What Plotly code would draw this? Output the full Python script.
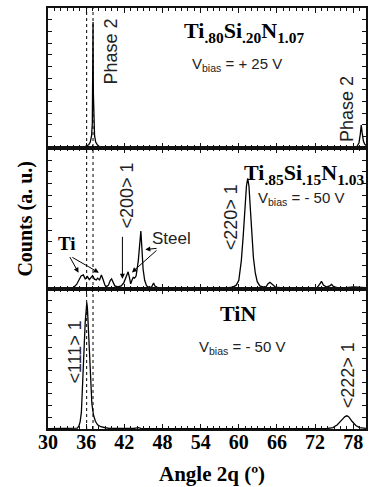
import plotly.graph_objects as go
from plotly.subplots import make_subplots

# 2-theta (deg) and relative intensity samples, one pair of lists per film
top_angle = [30.0, 32.0, 34.0, 34.8, 35.5, 36.0, 36.4, 36.65, 36.85, 36.97, 37.03, 37.08,
             37.13, 37.2, 37.32, 37.5, 37.75, 38.1, 38.6, 39.5, 42.0, 50.0, 60.0, 66.0,
             68.0, 68.6, 70.0, 71.2, 72.0, 75.0, 77.5, 78.2, 78.6, 78.9, 79.1, 79.25,
             79.4, 79.6, 79.8, 80.0]
top_counts = [0.3, 0.4, 0.6, 0.8, 0.9, 1.5, 2.5, 4.5, 9.0, 18.0, 40.0, 90.0,
              40.0, 18.0, 9.0, 4.5, 2.5, 1.2, 0.6, 0.5, 0.4, 0.4, 0.4, 0.5,
              0.8, 0.5, 0.7, 1.0, 0.5, 0.4, 0.5, 0.6, 1.5, 4.0, 10.0, 16.5,
              11.0, 5.0, 3.0, 2.0]

mid_angle = [30.0, 33.0, 34.0, 34.5, 34.9, 35.2, 35.55, 35.85, 36.2, 36.5, 37.0, 37.3,
             37.6, 37.8, 38.1, 38.4, 38.7, 38.95, 39.2, 39.5, 39.8, 40.0, 40.2, 40.5,
             41.0, 41.5, 41.9, 42.3, 42.6, 42.8, 43.0, 43.2, 43.4, 43.6, 43.85, 44.2,
             44.45, 44.6, 44.75, 44.95, 45.2, 45.5, 45.9, 46.3, 46.6, 46.9, 47.5, 50.0,
             55.0, 58.0, 59.0, 59.6, 60.0, 60.4, 60.7, 61.0, 61.2, 61.4, 61.6, 61.8,
             62.0, 62.3, 62.6, 62.9, 63.3, 63.8, 64.3, 64.6, 64.9, 65.3, 65.8, 67.0,
             70.0, 72.3, 72.7, 73.0, 73.3, 73.8, 74.3, 74.6, 74.9, 75.5, 76.5, 78.0,
             80.0]
mid_counts = [0.3, 0.4, 0.8, 3.0, 7.0, 9.0, 9.8, 7.0, 8.6, 6.5, 9.3, 6.8,
              6.2, 7.5, 6.2, 9.8, 6.0, 2.5, 1.5, 2.5, 6.0, 7.0, 5.0, 2.0,
              1.2, 2.0, 4.0, 8.0, 12.0, 8.0, 3.5, 6.0, 8.0, 7.5, 9.0, 20.0,
              32.0, 41.0, 30.0, 14.0, 6.0, 2.0, 0.8, 1.2, 4.0, 1.2, 0.5, 0.4,
              0.4, 0.5, 1.0, 2.5, 6.0, 20.0, 38.0, 60.0, 73.0, 78.6, 73.0, 58.0,
              40.0, 22.0, 11.0, 5.0, 2.0, 1.2, 1.5, 3.5, 4.5, 3.0, 1.0, 0.6,
              0.5, 0.8, 3.0, 5.2, 2.5, 1.2, 2.0, 3.0, 1.5, 0.8, 0.5, 1.2,
              0.8]

bot_angle = [30.0, 33.0, 34.6, 34.85, 35.05, 35.25, 35.4, 35.55, 35.7, 35.85, 36.0, 36.1,
             36.2, 36.35, 36.5, 36.7, 36.9, 37.15, 37.45, 37.8, 38.3, 39.0, 39.7, 43.5,
             44.2, 44.6, 50.0, 60.0, 70.0, 74.0, 74.8, 75.5, 76.2, 76.7, 77.0, 77.3,
             77.8, 78.4, 79.0, 80.0]
bot_counts = [0.2, 0.3, 0.6, 2.0, 5.0, 12.0, 25.0, 42.0, 60.0, 76.0, 87.0, 90.0,
              86.0, 72.0, 52.0, 32.0, 18.0, 10.0, 5.5, 3.0, 1.6, 0.9, 0.5, 0.4,
              1.0, 0.5, 0.3, 0.3, 0.3, 0.4, 1.0, 3.0, 6.5, 8.8, 9.4, 8.6,
              5.5, 2.5, 1.0, 0.5]

x_ticks = [30, 36, 42, 48, 54, 60, 66, 72, 78]
ref_lines = [36.08, 37.08]

SERIF = "Liberation Serif"
SANS = "Liberation Sans Narrow, Liberation Sans, Arial Narrow, sans-serif"
INK = "#111111"

fig = make_subplots(rows=3, cols=1, shared_xaxes=True, vertical_spacing=0)
for row, (xa, ya) in enumerate([(top_angle, top_counts), (mid_angle, mid_counts),
                                (bot_angle, bot_counts)], start=1):
    fig.add_trace(go.Scatter(x=xa, y=ya, mode="lines",
                             line=dict(color="black", width=1.3),
                             showlegend=False, hoverinfo="skip"), row=row, col=1)

for row in (1, 2, 3):
    fig.update_xaxes(range=[30, 80], tickmode="array", tickvals=x_ticks,
                     ticks="inside", ticklen=5, tickwidth=1, tickcolor=INK,
                     minor=dict(dtick=1, tick0=30, ticks="inside", ticklen=3,
                                tickcolor=INK, tickwidth=1),
                     showline=True, linecolor=INK, linewidth=1.8, mirror="allticks",
                     showgrid=False, zeroline=False,
                     showticklabels=(row == 3), ticklabelstandoff=-6,
                     tickfont=dict(family=SERIF, size=20, color="black", weight="bold"),
                     row=row, col=1)
    fig.update_yaxes(range=[0, 100], tick0=0, dtick=100 / 12,
                     ticks="inside", ticklen=4, tickwidth=1, tickcolor=INK,
                     showticklabels=False, showline=True, linecolor=INK,
                     linewidth=1.8, mirror="allticks", showgrid=False,
                     zeroline=False, row=row, col=1)

# dotted reference positions through all three panels
for xv in ref_lines:
    fig.add_shape(type="line", xref="x", yref="paper", x0=xv, x1=xv, y0=0, y1=1,
                  line=dict(color="black", width=1, dash="dot"))

def label(text, x, y, panel, size, family=SANS, angle=0, color="#222222"):
    sfx = "" if panel == 1 else str(panel)
    fig.add_annotation(text=text, x=x, y=y, xref="x" + sfx, yref="y" + sfx,
                       showarrow=False, textangle=angle,
                       font=dict(family=family, size=size, color=color),
                       xanchor="center", yanchor="middle")

def arrow(x0, y0, x1, y1, panel):
    sfx = "" if panel == 1 else str(panel)
    fig.add_annotation(text="", x=x1, y=y1, ax=x0, ay=y0,
                       xref="x" + sfx, yref="y" + sfx,
                       axref="x" + sfx, ayref="y" + sfx,
                       showarrow=True, arrowhead=2, arrowsize=1,
                       arrowwidth=1, arrowcolor="black")

# top film
label("<b>Ti<sub>.80</sub>Si<sub>.20</sub>N<sub>1.07</sub></b>", 60.8, 83, 1, 22,
      family=SERIF, color="black")
label("V<sub>bias</sub> = + 25 V", 59.7, 60, 1, 15)
label("Phase 2", 39.9, 69, 1, 18, angle=-90)
label("Phase 2", 77.0, 28, 1, 18, angle=-90)

# middle film
label("<b>Ti<sub>.85</sub>Si<sub>.15</sub>N<sub>1.03</sub></b>", 70.2, 82, 2, 22,
      family=SERIF, color="black")
label("V<sub>bias</sub> = - 50 V", 69.8, 64, 2, 15)
label("<200> 1", 42.5, 66, 2, 18, angle=-90)
label("<220> 1", 58.8, 51, 2, 18, angle=-90)
label("Steel", 49.4, 36, 2, 17)
label("<b>Ti</b>", 33.0, 32, 2, 19, family=SERIF, color="black")
arrow(33.3, 23.6, 34.8, 11.4, 2)
arrow(33.6, 22.9, 38.0, 11.4, 2)
arrow(41.7, 38.0, 41.7, 7.1, 2)
arrow(47.3, 28.8, 45.3, 27.9, 2)
arrow(47.3, 28.2, 43.2, 11.6, 2)

# bottom film
label("<b>TiN</b>", 59.8, 82, 3, 22, family=SERIF, color="black")
label("V<sub>bias</sub> = - 50 V", 60.5, 58, 3, 15)
label("<111> 1", 34.2, 55, 3, 18, angle=-90)
label("<222> 1", 77.1, 38, 3, 18, angle=-90)

# axis titles
fig.add_annotation(text="<b>Counts (a. u.)</b>", xref="paper", yref="paper",
                   x=-0.072, y=0.5, textangle=-90, showarrow=False,
                   xanchor="center", yanchor="middle",
                   font=dict(family=SERIF, size=20, color="black"))
fig.add_annotation(text="<b>Angle 2q (º)</b>", xref="paper", yref="paper",
                   x=0.516, y=-0.107, showarrow=False,
                   xanchor="center", yanchor="middle",
                   font=dict(family=SERIF, size=21, color="black"))

fig.update_layout(width=369, height=487, margin=dict(l=48, r=1, t=8, b=58),
                  plot_bgcolor="white", paper_bgcolor="white")

fig.write_html("out.html")
